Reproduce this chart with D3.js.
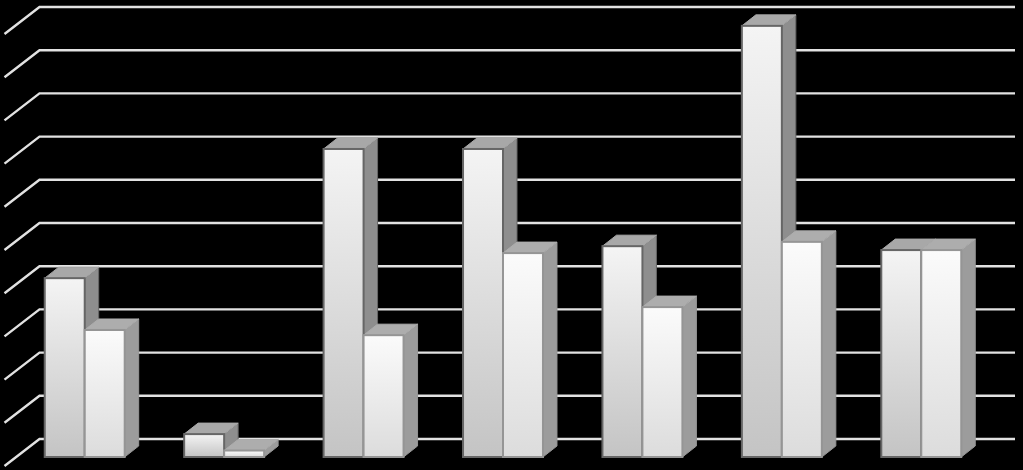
<!DOCTYPE html>
<html>
<head>
<meta charset="utf-8">
<script src="https://d3js.org/d3.v7.min.js"></script>
<style>
  html, body { margin: 0; padding: 0; background: #000; overflow: hidden; }
  svg { display: block; }
</style>
</head>
<body>
<script>

// values, gridlines taken as 0-100 in tens (no labels in the original)
var categories = ["A", "B", "C", "D", "E", "F", "G"];
var series1 = [41.4, 5.3, 71.3, 71.3, 48.8, 99.8, 47.9];
var series2 = [29.4, 1.5, 28.2, 47.2, 34.7, 49.8, 47.9];
var gridTicks = [0, 10, 20, 30, 40, 50, 60, 70, 80, 90, 100];

var width = 1023, height = 470;

// bar depth, and how far the back wall sits behind the bars
var barDx = 14, barDy = 11;
var wallDy = 18;

var svg = d3.select("body").append("svg")
    .attr("width", width)
    .attr("height", height);

var x = d3.scaleBand()
    .domain(categories)
    .range([15, 991])
    .paddingInner(0.4265)
    .paddingOuter(0.2133)
    ;

var y = d3.scaleLinear().domain([0, 100]).range([457, 25]);

var defs = svg.append("defs");

function addGradient(id, top, bottom) {
    var g = defs.append("linearGradient")
        .attr("id", id)
        .attr("x1", 0).attr("y1", 0)
        .attr("x2", 0).attr("y2", 1);
    g.append("stop").attr("offset", "0%").attr("stop-color", top);
    g.append("stop").attr("offset", "100%").attr("stop-color", bottom);
}
addGradient("front1", "#f4f4f4", "#c4c4c4");
addGradient("front2", "#fbfbfb", "#dcdcdc");

// the original is a slightly soft screenshot
defs.append("filter")
    .attr("id", "soft")
    .append("feGaussianBlur")
    .attr("stdDeviation", 0.5);

var chart = svg.append("g").attr("filter", "url(#soft)");

// ++++++++++++++++++++++++++++++++++++++++++++++++++++++
//  gridlines: back wall plus the slanted bit on the left side wall

var xWall = 39.5;

chart.selectAll("path.grid")
    .data(gridTicks)
    .enter()
    .append("path")
    .attr("class", "grid")
    .attr("fill", "none")
    .attr("stroke", "#e2e2e2")
    .attr("stroke-width", 2.4)
    .attr("d", function(d) {
        var yb = y(d) - wallDy;
        return "M" + (xWall - 35) + "," + (yb + 27) + "L" + xWall + "," + yb + "L1015," + yb;
    });

// ++++++++++++++++++++++++++++++++++++++++++++++++++++++
//  bars

var style1 = { grad: "url(#front1)", top: "#a8a8a8", side: "#8e8e8e", stroke: "#666666" };
var style2 = { grad: "url(#front2)", top: "#adadad", side: "#9c9c9c", stroke: "#959595" };

function drawBars(values, offset, st) {
    var w = x.bandwidth() / 2;
    var groups = chart.selectAll("g.s" + offset)
        .data(values)
        .enter()
        .append("g")
        .attr("class", "s" + offset);

    function left(i) { return x(categories[i]) + offset * w; }

    groups.append("path")   // right side
        .attr("fill", st.side)
        .attr("stroke", st.stroke)
        .attr("stroke-width", 1)
        .attr("d", function(d, i) {
            var r = left(i) + w;
            return "M" + r + "," + y(d) + "l" + barDx + "," + (-barDy) +
                "L" + (r + barDx) + "," + (y(0) - barDy) + "L" + r + "," + y(0) + "Z";
        });

    groups.append("path")   // top
        .attr("fill", st.top)
        .attr("stroke", st.top)
        .attr("stroke-width", 1)
        .attr("d", function(d, i) {
            var l = left(i);
            return "M" + l + "," + y(d) + "l" + barDx + "," + (-barDy) + "h" + w +
                "l" + (-barDx) + "," + barDy + "Z";
        });

    groups.append("rect")   // front
        .attr("x", function(d, i) { return left(i); })
        .attr("y", function(d) { return y(d); })
        .attr("width", w)
        .attr("height", function(d) { return y(0) - y(d); })
        .attr("fill", st.grad)
        .attr("stroke", st.stroke)
        .attr("stroke-width", 2);
}

drawBars(series1, 0, style1);
drawBars(series2, 1, style2);

</script>
</body>
</html>
